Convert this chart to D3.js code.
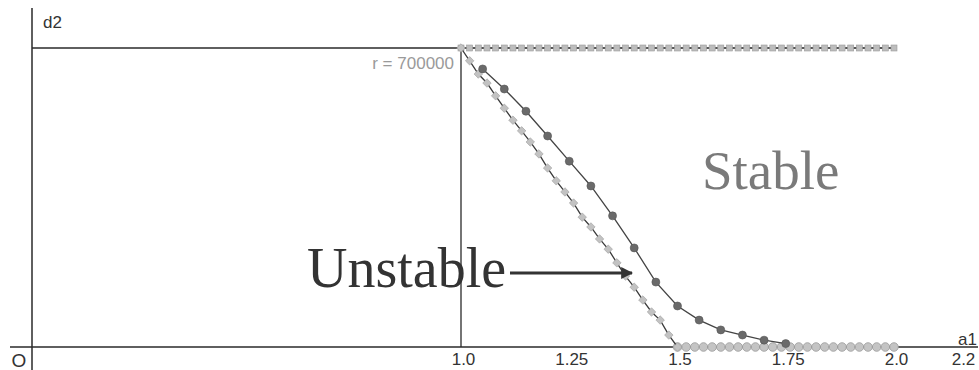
<!DOCTYPE html>
<html>
<head>
<meta charset="utf-8">
<script src="https://cdn.jsdelivr.net/npm/d3@7/dist/d3.min.js"></script>
<style>
  html, body { margin: 0; padding: 0; background: #fff; }
  svg { display: block; }
  .axis text { font-family: "Liberation Sans", Arial, sans-serif; font-size: 17px; fill: #333; }
</style>
</head>
<body>
<svg id="chart" width="979" height="370"></svg>
<script>
// Stability boundary in the (a1, d2) plane at r = 700000

const rLevel = 700000;

// tick labels along a1
const tickValues = [1.0, 1.25, 1.5, 1.75, 2.0, 2.2];
const tickLabels = ["1.0", "1.25", "1.5", "1.75", "2.0", "2.2"];

// boundary curve, fine step (light markers)
const lightA1 = [1.00, 1.02, 1.04, 1.06, 1.08, 1.10, 1.12, 1.14, 1.16, 1.18, 1.20,
                 1.22, 1.24, 1.26, 1.28, 1.30, 1.32, 1.34, 1.36, 1.38, 1.40,
                 1.42, 1.44, 1.46, 1.48, 1.50];
const lightD2 = [700000, 670000, 639000, 618000, 588000, 559000, 531000, 506000, 480000, 452000, 419000,
                 389000, 363000, 337000, 304000, 281000, 253000, 229000, 197000, 166000, 140000,
                 110000, 82000, 63000, 28000, 0];

// boundary curve, coarse step (dark markers)
const darkA1 = [1.05, 1.10, 1.15, 1.20, 1.25, 1.30, 1.35, 1.40, 1.45, 1.50,
                1.55, 1.60, 1.65, 1.70, 1.75];
const darkD2 = [651000, 604000, 552000, 494000, 435000, 377000, 307000, 232000, 152000, 96000,
                63000, 40000, 28000, 16000, 8000];

// upper limit d2 = r, a1 from 1.0 to 2.0
const topA1 = [1.00, 1.02, 1.04, 1.06, 1.08, 1.10, 1.12, 1.14, 1.16, 1.18, 1.20,
               1.22, 1.24, 1.26, 1.28, 1.30, 1.32, 1.34, 1.36, 1.38, 1.40,
               1.42, 1.44, 1.46, 1.48, 1.50, 1.52, 1.54, 1.56, 1.58, 1.60,
               1.62, 1.64, 1.66, 1.68, 1.70, 1.72, 1.74, 1.76, 1.78, 1.80,
               1.82, 1.84, 1.86, 1.88, 1.90, 1.92, 1.94, 1.96, 1.98, 2.00];
const topD2 = topA1.map(() => rLevel);

// lower limit d2 = 0, a1 from 1.5 to 2.0
const bottomA1 = [1.50, 1.52, 1.54, 1.56, 1.58, 1.60, 1.62, 1.64, 1.66, 1.68, 1.70,
                  1.72, 1.74, 1.76, 1.78, 1.80, 1.82, 1.84, 1.86, 1.88, 1.90,
                  1.92, 1.94, 1.96, 1.98, 2.00];
const bottomD2 = bottomA1.map(() => 0);

const svg = d3.select("#chart");

// a1 axis is broken between O and 1.0
const x = d3.scaleLinear().domain([0, 1, 2, 2.2]).range([32, 461, 894, 961]);
const y = d3.scaleLinear().domain([0, rLevel]).range([347, 48]);

const axisColor = "#2a2a2a";
const sans = "Liberation Sans, Arial, sans-serif";
const serif = "Liberation Serif, Times New Roman, serif";

// axes
svg.append("line")
  .attr("x1", 10).attr("x2", 978)
  .attr("y1", y(0)).attr("y2", y(0))
  .attr("stroke", axisColor).attr("stroke-width", 1.5);
svg.append("line")
  .attr("x1", x(0)).attr("x2", x(0))
  .attr("y1", 8).attr("y2", 370)
  .attr("stroke", axisColor).attr("stroke-width", 1.5);

// reference lines: d2 = r and a1 = 1.0
svg.append("line")
  .attr("x1", x(0)).attr("x2", x(1))
  .attr("y1", y(rLevel)).attr("y2", y(rLevel))
  .attr("stroke", axisColor).attr("stroke-width", 1.3);
svg.append("line")
  .attr("x1", x(1)).attr("x2", x(1))
  .attr("y1", y(rLevel)).attr("y2", y(0))
  .attr("stroke", axisColor).attr("stroke-width", 1.3);

const xAxis = d3.axisBottom(x)
  .tickValues(tickValues)
  .tickFormat((d, i) => tickLabels[i])
  .tickSize(0)
  .tickPadding(6);
const gx = svg.append("g").attr("class", "axis")
  .attr("transform", `translate(0,${y(0)})`)
  .call(xAxis);
gx.select(".domain").remove();
gx.selectAll(".tick text").attr("dx", 2);

svg.append("text")
  .attr("x", x(0) - 13).attr("y", 367)
  .attr("text-anchor", "middle")
  .attr("font-family", sans)
  .attr("font-size", 19).attr("fill", "#333")
  .text("O");

svg.append("text")
  .attr("x", 977).attr("y", 345)
  .attr("text-anchor", "end")
  .attr("font-family", sans)
  .attr("font-size", 17).attr("fill", "#333")
  .text("a1");

svg.append("text")
  .attr("x", 43).attr("y", 28)
  .attr("font-family", sans)
  .attr("font-size", 17).attr("fill", "#333")
  .text("d2");

svg.append("text")
  .attr("x", 454).attr("y", 69)
  .attr("text-anchor", "end")
  .attr("font-family", sans)
  .attr("font-size", 17).attr("fill", "#9a9a9a")
  .text("r = 700000");

const line = d3.line().x(d => x(d[0])).y(d => y(d[1]));
const zip = (a, b) => a.map((v, i) => [v, b[i]]);

// upper limit
const topPts = zip(topA1, topD2);
svg.append("path").attr("d", line(topPts))
  .attr("fill", "none").attr("stroke", "#555").attr("stroke-width", 2);
svg.append("g").selectAll("rect").data(topPts).join("rect")
  .attr("x", d => x(d[0]) - 3).attr("y", d => y(d[1]) - 3)
  .attr("width", 6).attr("height", 6)
  .attr("fill", "#bdbdbd").attr("stroke", "#9a9a9a").attr("stroke-width", 0.6);

// lower limit
const botPts = zip(bottomA1, bottomD2);
svg.append("g").selectAll("circle").data(botPts).join("circle")
  .attr("cx", d => x(d[0])).attr("cy", d => y(d[1]))
  .attr("r", 4.3)
  .attr("fill", "#c4c4c4").attr("stroke", "#9a9a9a").attr("stroke-width", 0.8);

// fine boundary curve
const lightPts = zip(lightA1, lightD2);
svg.append("path").attr("d", line(lightPts))
  .attr("fill", "none").attr("stroke", "#3a3a3a").attr("stroke-width", 1.3);
svg.append("g").selectAll("rect").data(lightPts).join("rect")
  .attr("x", d => x(d[0]) - 3).attr("y", d => y(d[1]) - 3)
  .attr("width", 6).attr("height", 6)
  .attr("transform", d => `rotate(45,${x(d[0])},${y(d[1])})`)
  .attr("fill", "#c2c2c2").attr("stroke", "#a0a0a0").attr("stroke-width", 0.6);

// coarse boundary curve
const darkPts = zip(darkA1, darkD2);
svg.append("path").attr("d", line(darkPts))
  .attr("fill", "none").attr("stroke", "#444").attr("stroke-width", 1.3);
svg.append("g").selectAll("circle").data(darkPts).join("circle")
  .attr("cx", d => x(d[0])).attr("cy", d => y(d[1]))
  .attr("r", 4)
  .attr("fill", "#6a6a6a").attr("stroke", "#555").attr("stroke-width", 0.6);

// region labels
svg.append("text")
  .attr("x", 702).attr("y", 189)
  .attr("font-family", serif)
  .attr("font-size", 55).attr("fill", "#7a7a7a")
  .text("Stable");

svg.append("text")
  .attr("x", 307).attr("y", 287)
  .attr("font-family", serif)
  .attr("font-size", 56).attr("fill", "#333")
  .text("Unstable");

// arrow from the label to the curve
svg.append("defs").append("marker")
  .attr("id", "head")
  .attr("viewBox", "0 0 10 10")
  .attr("refX", 9).attr("refY", 5)
  .attr("markerWidth", 4).attr("markerHeight", 4)
  .attr("orient", "auto")
  .append("path").attr("d", "M0,0 L10,5 L0,10 Z").attr("fill", "#333");
svg.append("line")
  .attr("x1", 510).attr("y1", 273)
  .attr("x2", 632).attr("y2", 273)
  .attr("stroke", "#333").attr("stroke-width", 3)
  .attr("marker-end", "url(#head)");
</script>
</body>
</html>
